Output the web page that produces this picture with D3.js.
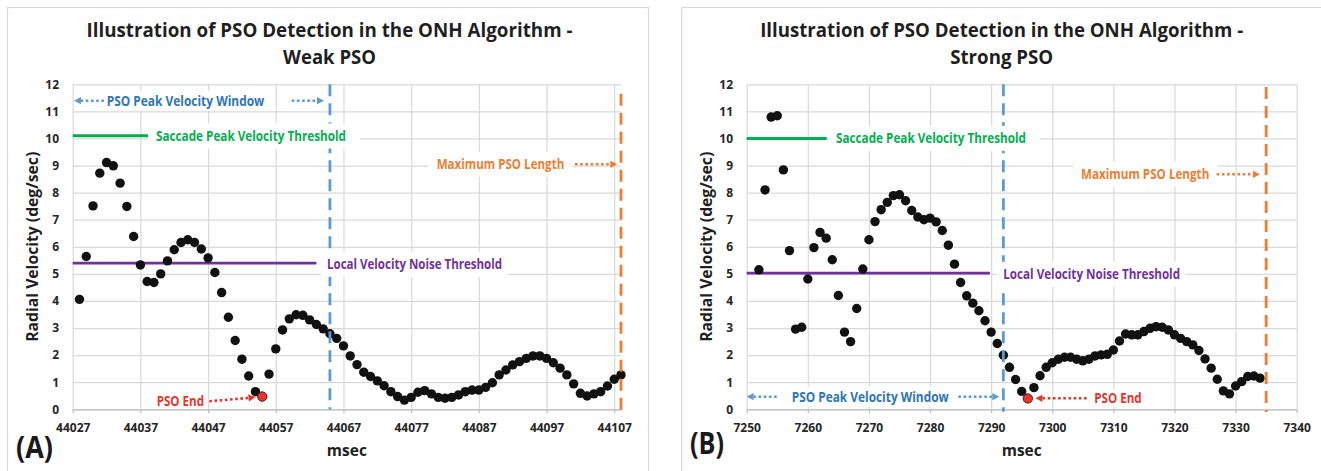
<!DOCTYPE html>
<html><head><meta charset="utf-8">
<script src="https://cdn.jsdelivr.net/npm/d3@7"></script>
<style>
html,body{margin:0;padding:0;background:#fff;}
svg{display:block;}
text{font-family:"Open Sans","Liberation Sans",sans-serif;}
</style>
</head><body>
<svg id="c" width="1321" height="471"></svg>
<script>
// ---------------- DATA ----------------
const yTicks = [0,1,2,3,4,5,6,7,8,9,10,11,12];

// Panel A - Weak PSO
const xTicksA = [44027,44037,44047,44057,44067,44077,44087,44097,44107];
const msecA = [44028,44029,44030,44031,44032,44033,44034,44035,44036,44037,44038,44039,44040,44041,44042,44043,44044,44045,44046,44047,
  44048,44049,44050,44051,44052,44053,44054,44055,44056,44057,44058,44059,44060,44061,44062,44063,44064,44065,44066,44067,
  44068,44069,44070,44071,44072,44073,44074,44075,44076,44077,44078,44079,44080,44081,44082,44083,44084,44085,44086,44087,
  44088,44089,44090,44091,44092,44093,44094,44095,44096,44097,44098,44099,44100,44101,44102,44103,44104,44105,44106,44107,44108];
const velA = [4.06,5.64,7.51,8.72,9.11,8.99,8.35,7.49,6.38,5.33,4.72,4.68,5.00,5.48,5.89,6.16,6.26,6.16,5.92,5.59,
  5.05,4.31,3.40,2.54,1.85,1.23,0.65,0.47,1.30,2.23,2.93,3.34,3.49,3.47,3.30,3.13,2.97,2.79,2.62,2.34,
  1.97,1.65,1.37,1.21,1.05,0.87,0.65,0.47,0.34,0.44,0.63,0.69,0.57,0.44,0.41,0.44,0.53,0.65,0.71,0.71,
  0.81,0.98,1.27,1.45,1.64,1.76,1.88,1.97,1.97,1.88,1.72,1.52,1.27,0.94,0.59,0.49,0.57,0.65,0.86,1.11,1.27];
const psoEndA = 44055;
const saccadeThrA = 10.1, saccadeEndA = 44038.2;
const noiseThrA = 5.4, noiseEndA = 44063;
const windowEndA = 44065;
const maxLenA = 44108;

// Panel B - Strong PSO
const xTicksB = [7250,7260,7270,7280,7290,7300,7310,7320,7330,7340];
const msecB = [7252,7253,7254,7255,7256,7257,7258,7259,7260,7261,7262,7263,7264,7265,7266,7267,7268,7269,7270,7271,
  7272,7273,7274,7275,7276,7277,7278,7279,7280,7281,7282,7283,7284,7285,7286,7287,7288,7289,7290,7291,
  7292,7293,7294,7295,7296,7297,7298,7299,7300,7301,7302,7303,7304,7305,7306,7307,7308,7309,7310,7311,
  7312,7313,7314,7315,7316,7317,7318,7319,7320,7321,7322,7323,7324,7325,7326,7327,7328,7329,7330,7331,
  7332,7333,7334];
const velB = [5.15,8.10,10.79,10.84,8.84,5.86,2.96,3.03,4.81,5.97,6.53,6.32,5.52,4.20,2.85,2.50,3.72,5.18,6.26,6.93,
  7.37,7.64,7.89,7.92,7.70,7.34,7.10,7.00,7.06,6.92,6.60,6.06,5.36,4.68,4.19,3.92,3.64,3.27,2.85,2.43,
  2.00,1.55,1.10,0.66,0.40,0.80,1.24,1.55,1.72,1.85,1.92,1.92,1.85,1.79,1.85,1.97,2.01,2.03,2.19,2.52,
  2.78,2.75,2.75,2.87,2.99,3.05,3.03,2.93,2.75,2.62,2.50,2.38,2.17,1.86,1.52,1.11,0.68,0.57,0.86,1.02,
  1.21,1.23,1.15];
const psoEndB = 7296;
const saccadeThrB = 10.0, saccadeEndB = 7263.1;
const noiseThrB = 5.03, noiseEndB = 7289.8;
const windowEndB = 7292;
const maxLenB = 7335;

// ---------------- STYLE ----------------
const C = {grid:"#d9d9d9", axis:"#bfbfbf", text:"#262626", green:"#00b050", purple:"#7030a0",
  blueLine:"#5b9bd5", blueText:"#2e75b6", orange:"#ed7d31", red:"#e8352a"};

const svg = d3.select("#c");
svg.append("rect").attr("width",1321).attr("height",471).attr("fill","#fff");

function label(g, x, cy, s, color, size, w, anchor){
  const t = g.append("text").attr("x",x).attr("y",cy).attr("dy","0.36em")
    .attr("fill",color).attr("font-size",size).attr("font-weight","bold")
    .attr("text-anchor",anchor||"start").text(s);
  if (w) t.attr("textLength",w).attr("lengthAdjust","spacingAndGlyphs");
  return t;
}
function box(g, x0, x1, cy, h){
  g.append("rect").attr("x",x0).attr("y",cy-h/2).attr("width",x1-x0).attr("height",h).attr("fill","#fff");
}
function dottedArrow(g, x1, y1, x2, y2, color){
  const dx = x2-x1, dy = y2-y1, L = Math.hypot(dx,dy), ux = dx/L, uy = dy/L;
  const hl = 7, hw = 3.6;
  g.append("line").attr("x1",x1).attr("y1",y1).attr("x2",x2-ux*hl).attr("y2",y2-uy*hl)
    .attr("stroke",color).attr("stroke-width",2.6).attr("stroke-dasharray","2.6,2.6");
  const bx = x2-ux*hl, by = y2-uy*hl;
  g.append("path").attr("d",`M${x2},${y2}L${bx-uy*hw},${by+ux*hw}L${bx+uy*hw},${by-ux*hw}Z`).attr("fill",color);
}

function drawPanel(p){
  const g = svg.append("g");
  g.append("rect").attr("x",p.frame[0]).attr("y",p.frame[1]).attr("width",p.frame[2]).attr("height",p.frame[3])
    .attr("fill","#fff").attr("stroke",C.grid).attr("stroke-width",1.2);
  const x = d3.scaleLinear().domain(p.xDomain).range([p.plot.l,p.plot.r]);
  const y = d3.scaleLinear().domain([0,12]).range([p.plot.b,p.plot.t]);
  const pw = p.plot.r-p.plot.l, ph = p.plot.b-p.plot.t;

  // horizontal gridlines
  const hg = g.append("g").attr("transform",`translate(${p.plot.l},0)`)
    .call(d3.axisLeft(y).tickValues(yTicks).tickSize(-pw).tickFormat(""));
  hg.select(".domain").remove();
  hg.selectAll("line").attr("stroke",C.grid).attr("stroke-width",1.2);
  // vertical gridlines
  const vg = g.append("g").attr("transform",`translate(0,${p.plot.b})`)
    .call(d3.axisBottom(x).tickValues(p.xTicks).tickSize(-ph).tickFormat(""));
  vg.select(".domain").remove();
  vg.selectAll("line").attr("stroke",C.grid).attr("stroke-width",1.2);
  // bottom axis with small ticks
  const ba = g.append("g").attr("transform",`translate(0,${y(0)})`)
    .call(d3.axisBottom(x).tickValues(p.xTicks).tickSize(4).tickSizeOuter(0).tickFormat(""));
  ba.select(".domain").attr("stroke",C.axis).attr("stroke-width",1.2);
  ba.selectAll("line").attr("stroke",C.axis).attr("stroke-width",1.2);
  // x tick labels
  const xl = g.append("g").attr("transform",`translate(0,${p.plot.b})`)
    .call(d3.axisBottom(x).tickValues(p.xTicks).tickSize(0).tickPadding(14.5).tickFormat(d3.format("d")));
  xl.select(".domain").remove();
  xl.selectAll("text").attr("font-size",12).attr("font-weight","bold").attr("fill",C.text)
    .attr("font-family",'"Open Sans","Liberation Sans",sans-serif');
  // y tick labels
  const yl = g.append("g").attr("transform",`translate(${p.plot.l},0)`)
    .call(d3.axisLeft(y).tickValues(yTicks).tickSize(0).tickPadding(13.6).tickFormat(d3.format("d")));
  yl.select(".domain").remove();
  yl.selectAll("text").attr("font-size",12).attr("font-weight","bold").attr("fill",C.text)
    .attr("font-family",'"Open Sans","Liberation Sans",sans-serif');

  // threshold lines
  g.append("line").attr("x1",x(p.xDomain[0])).attr("x2",x(p.saccadeEnd))
    .attr("y1",y(p.saccadeThr)).attr("y2",y(p.saccadeThr)).attr("stroke",C.green).attr("stroke-width",3);
  g.append("line").attr("x1",x(p.xDomain[0])).attr("x2",x(p.noiseEnd))
    .attr("y1",y(p.noiseThr)).attr("y2",y(p.noiseThr)).attr("stroke",C.purple).attr("stroke-width",2.8);

  // points
  const pts = d3.zip(p.msec,p.vel);
  g.append("g").selectAll("circle").data(pts).join("circle")
    .attr("cx",d=>x(d[0])).attr("cy",d=>y(d[1])).attr("r",4.7)
    .attr("fill",d=>d[0]===p.psoEnd?C.red:"#111")
    .attr("stroke",d=>d[0]===p.psoEnd?"#3b1010":"none").attr("stroke-width",0.9);

  // vertical dashed lines
  g.append("line").attr("x1",x(p.windowEnd)).attr("x2",x(p.windowEnd))
    .attr("y1",y(p.winSpan[1])).attr("y2",y(p.winSpan[0]))
    .attr("stroke",C.blueLine).attr("stroke-width",2.8).attr("stroke-dasharray","12,7");
  g.append("line").attr("x1",x(p.maxLen)).attr("x2",x(p.maxLen))
    .attr("y1",y(p.maxSpan[1])).attr("y2",y(p.maxSpan[0]))
    .attr("stroke",C.orange).attr("stroke-width",2.8).attr("stroke-dasharray","12,7");

  // annotation labels
  const a = p.ann;
  box(g, a.sac[0]-8, a.sac[0]+a.sac[2]+14, a.sac[1], 25);
  label(g, a.sac[0], a.sac[1], "Saccade Peak Velocity Threshold", C.green, 13.5, a.sac[2]);
  box(g, a.noise[0]-6, a.noise[0]+a.noise[2]+6, a.noise[1], 25);
  label(g, a.noise[0], a.noise[1], "Local Velocity Noise Threshold", C.purple, 13.5, a.noise[2]);
  box(g, a.max[0]-8, a.max[0]+a.max[2]+8, a.max[1], 25);
  label(g, a.max[0], a.max[1], "Maximum PSO Length", C.orange, 13.5, a.max[2]);
  dottedArrow(g, a.maxArrow[0], a.maxArrow[1], a.maxArrow[2], a.maxArrow[3], C.orange);
  box(g, a.win[0]-6, a.win[0]+a.win[2]+6, a.win[1], 20);
  label(g, a.win[0], a.win[1], "PSO Peak Velocity Window", C.blueText, 13.5, a.win[2]);
  dottedArrow(g, a.winL[0], a.winL[1], a.winL[2], a.winL[3], C.blueLine);
  dottedArrow(g, a.winR[0], a.winR[1], a.winR[2], a.winR[3], C.blueLine);
  box(g, a.end[0]-4, a.end[0]+a.end[2]+4, a.end[1]-0.5, 16);
  label(g, a.end[0], a.end[1], "PSO End", C.red, 13.5, a.end[2]);
  dottedArrow(g, a.endArrow[0], a.endArrow[1], a.endArrow[2], a.endArrow[3], C.red);

  // titles
  label(g, p.titleX, 30.5, "Illustration of PSO Detection in the ONH Algorithm -", "#1f1f1f", 19, p.titleW[0], "middle");
  label(g, p.titleX, 57, p.subtitle, "#1f1f1f", 19, p.titleW[1], "middle");
  // axis titles
  label(g, (p.plot.l+p.plot.r)/2, 450, "msec", "#1f1f1f", 16.5, 40, "middle");
  g.append("text").attr("transform",`translate(${p.yLabelX},246.8) rotate(-90)`).attr("dy","0.36em")
    .attr("text-anchor","middle").attr("font-size",16).attr("font-weight","bold").attr("fill","#1f1f1f")
    .attr("textLength",190).attr("lengthAdjust","spacingAndGlyphs").text("Radial Velocity (deg/sec)");
  // panel letter
  g.append("text").attr("x",p.letter[0]).attr("y",p.letter[1]).attr("font-size",30).attr("font-weight","bold")
    .attr("fill","#1a1a1a").attr("textLength",p.letter[2]).attr("lengthAdjust","spacingAndGlyphs").text(p.letterText);
}

drawPanel({
  frame:[7.5,7.5,641,480], plot:{l:72.7,r:621,t:84.3,b:409.3}, xDomain:[44027,44108], xTicks:xTicksA,
  msec:msecA, vel:velA, psoEnd:psoEndA,
  saccadeThr:saccadeThrA, saccadeEnd:saccadeEndA, noiseThr:noiseThrA, noiseEnd:noiseEndA,
  windowEnd:windowEndA, winSpan:[0,12], maxLen:maxLenA, maxSpan:[-0.28,11.65],
  ann:{
    sac:[156,136,190], noise:[327,264.3,175], max:[436.7,164.3,127.6], maxArrow:[575,164.3,617.3,164.3],
    win:[106.7,100.7,157.6], winL:[104,100.7,74,100.7], winR:[291.7,100.7,324,100.7],
    end:[156.7,401,47.3], endArrow:[209.3,401.3,255.5,397.3]
  },
  titleX:329.5, titleW:[486,93], subtitle:"Weak PSO", yLabelX:32,
  letter:[16,457.5,37], letterText:"(A)"
});

drawPanel({
  frame:[681.7,7.5,660,480], plot:{l:746.7,r:1296.7,t:84.3,b:409.3}, xDomain:[7250,7340], xTicks:xTicksB,
  msec:msecB, vel:velB, psoEnd:psoEndB,
  saccadeThr:saccadeThrB, saccadeEnd:saccadeEndB, noiseThr:noiseThrB, noiseEnd:noiseEndB,
  windowEnd:windowEndB, winSpan:[-0.09,12], maxLen:maxLenB, maxSpan:[-0.1,11.9],
  ann:{
    sac:[836,138.3,190], noise:[1003.3,274.3,176.7], max:[1081,174.3,128.3], maxArrow:[1216.7,174.3,1260,174.3],
    win:[791.7,396.7,157], winL:[776.7,396.7,746.7,396.7], winR:[958.3,396.7,999.3,396.7],
    end:[1094.3,398,47.4], endArrow:[1086.7,398.3,1035.5,398.3]
  },
  titleX:1001.7, titleW:[483,103], subtitle:"Strong PSO", yLabelX:706.3,
  letter:[690,454,34], letterText:"(B)"
});
</script>
</body></html>
